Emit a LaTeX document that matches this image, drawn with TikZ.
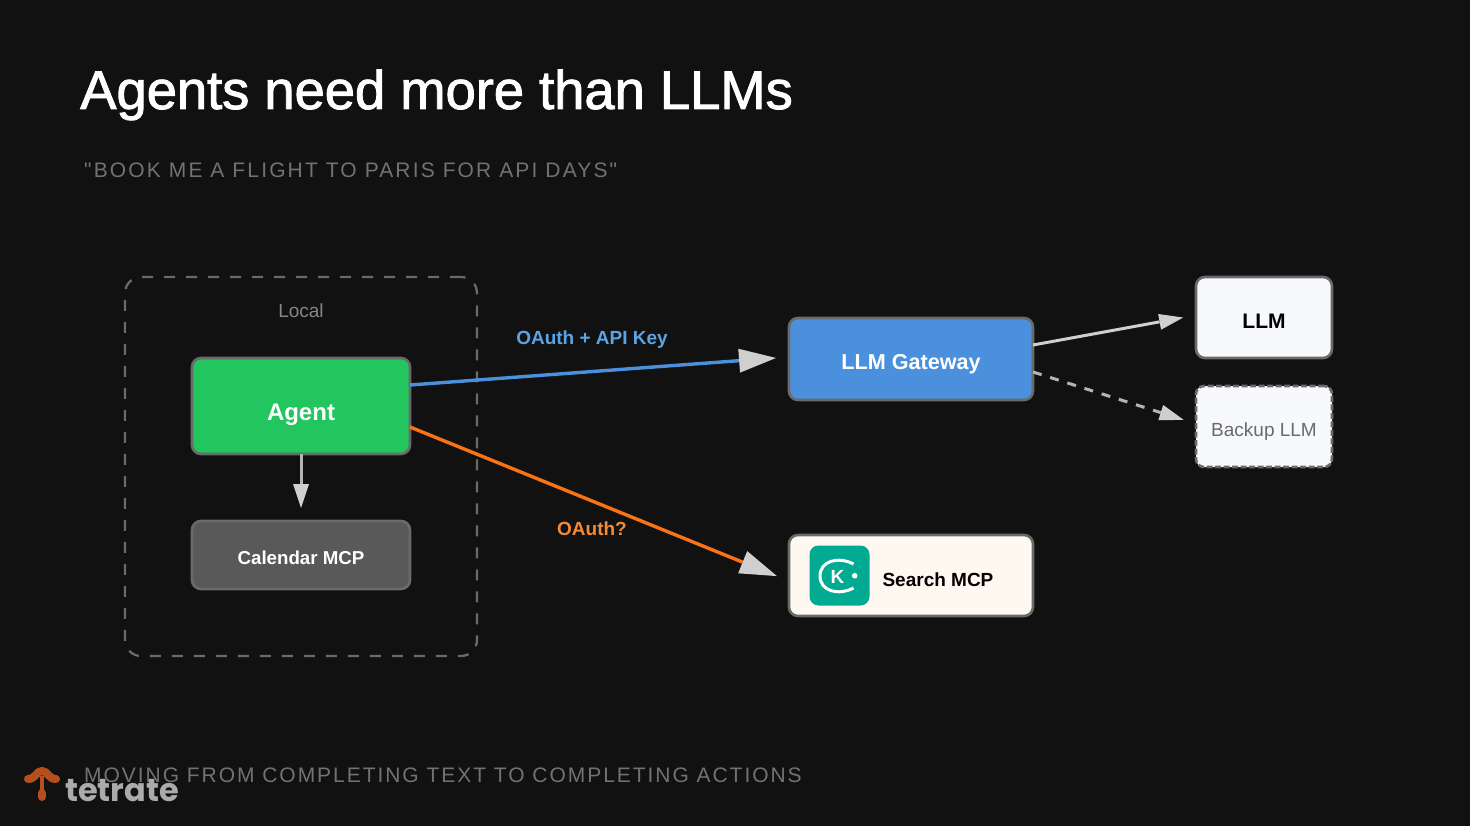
\documentclass[tikz,border=0pt]{standalone}
\usepackage{fontspec}
\setmainfont{Liberation Sans}
\newfontfamily\capsfont{Liberation Sans}
\newfontfamily\logofont{Poppins}
\usetikzlibrary{arrows.meta,positioning}
\definecolor{slidebg}{HTML}{111111}
\definecolor{edgegray}{HTML}{6A6A6A}
\definecolor{arrowgray}{HTML}{CFCFCF}
\definecolor{stemgray}{HTML}{B4B4B4}
\definecolor{agentgreen}{HTML}{22C55E}
\definecolor{gatewayblue}{HTML}{4A90DD}
\definecolor{mcpgray}{HTML}{595959}
\definecolor{llmwhite}{HTML}{F8F9FD}
\definecolor{searchcream}{HTML}{FFF8F0}
\definecolor{kiwiteal}{HTML}{00AB92}
\definecolor{labelblue}{HTML}{5BA4E6}
\definecolor{labelorange}{HTML}{F58B33}
\definecolor{linkorange}{HTML}{F97316}
\definecolor{logoorange}{HTML}{B5501C}
\definecolor{mutedgray}{HTML}{727272}
\newcommand{\fs}[1]{\fontsize{#1}{#1}\selectfont}
\newcommand{\lowered}[2]{\raisebox{-#1}[0pt][0pt]{#2}}
\begin{document}
\begin{tikzpicture}[x=1pt,y=-1pt,
box/.style={draw=edgegray,line width=2.6pt,rounded corners=9pt,align=center,outer sep=0pt,inner sep=0pt},
arr/.style={-{Triangle[length=24pt,width=16pt,fill=arrowgray,color=arrowgray,line width=0pt]},draw=stemgray,line width=3pt,shorten >=13pt},
bigarr/.style={-{Triangle[length=37pt,width=24pt,fill=arrowgray,color=arrowgray,line width=0pt]},line width=3.4pt,shorten >=13pt},
edgelabel/.style={font=\fs{19}\bfseries,inner sep=0pt}]
\useasboundingbox (0,0) rectangle (1470,826);
\fill[slidebg] (0,0) rectangle (1470,826);
% headings
\node[anchor=base west,inner sep=0pt,text=white] (title) at (80,109) {\fs{54.5}\capsfont\addfontfeature{LetterSpace=-0.2,FakeBold=1.6}Agents need more than LLMs};
\node[anchor=base west,inner sep=0pt,text=mutedgray] (subtitle) at (84,178) {\fs{21}\capsfont\addfontfeature{LetterSpace=10.2}"BOOK ME A FLIGHT TO PARIS FOR API DAYS"};
\node[anchor=base west,inner sep=0pt,text=mutedgray] (footer) at (84,782) {\fs{21}\capsfont\addfontfeature{LetterSpace=9.3}MOVING FROM COMPLETING TEXT TO COMPLETING ACTIONS};
% local group
\node[draw=edgegray,line width=2.3pt,dash pattern=on 11pt off 11pt,rounded corners=16pt,minimum width=352pt,minimum height=379pt,inner sep=0pt] (local) at (301,466.5) {};
\node[font=\fs{19},text=black!47,inner sep=0pt] (locallabel) at (301,311) {Local};
% boxes
\node[box,fill=agentgreen,text=white,font=\fs{24}\bfseries,minimum width=218pt,minimum height=96pt] (agent) at (301,406) {\lowered{14pt}{Agent}};
\node[box,fill=mcpgray,text=white,font=\fs{18.7}\bfseries,minimum width=218pt,minimum height=68pt] (calendar) at (301,555) {\lowered{9pt}{Calendar MCP}};
\node[box,fill=gatewayblue,text=white,font=\fs{21.6}\bfseries,minimum width=244pt,minimum height=82pt] (gateway) at (911,359) {\lowered{10.5pt}{LLM Gateway}};
\node[box,fill=searchcream,text=black,font=\fs{19}\bfseries,minimum width=244pt,minimum height=81pt] (search) at (911,575.5) {\hspace*{54pt}\lowered{10.5pt}{Search MCP}};
\node[box,fill=llmwhite,text=black,font=\fs{21}\bfseries,minimum width=136pt,minimum height=81pt] (llm) at (1264,317.5) {\lowered{11pt}{LLM}};
\node[box,fill=llmwhite,text=edgegray,font=\fs{19},dash pattern=on 6pt off 2.5pt,rounded corners=8pt,minimum width=136pt,minimum height=81pt] (backup) at (1264,426.5) {\lowered{10pt}{Backup LLM}};
% search icon
\node[fill=kiwiteal,rounded corners=9pt,minimum size=60pt,inner sep=0pt] (kiwi) at (839.5,575.5) {};
\draw[white,line width=3pt] (853.5,564) .. controls (838,556) and (820,561) .. (820,576) .. controls (820,591) and (838,596) .. (853.5,588);
\node[text=white,font=\fs{19}\bfseries,inner sep=0pt] (kiwik) at (837.5,576.5) {K};
\fill[white] (854.7,575.7) circle (2.8pt);
% connectors
\draw[bigarr,draw=gatewayblue] ([yshift=21pt]agent.east) -- ([yshift=2pt]gateway.west);
\draw[bigarr,draw=linkorange] ([yshift=-21pt]agent.east) -- ([yshift=-5.5pt]search.west);
\draw[arr] (agent.south) -- (calendar.north);
\draw[arr,draw=arrowgray] ([yshift=14pt]gateway.east) -- ([yshift=2.3pt]llm.west);
\draw[arr,dash pattern=on 9pt off 9pt] ([yshift=-13pt]gateway.east) -- ([yshift=2.7pt]backup.west);
\node[edgelabel,text=labelblue] (keylabel) at (592,340) {OAuth + API Key};
\node[edgelabel,text=labelorange] (oauthlabel) at (592,528.5) {OAuth?};
% logo
\draw[logoorange,line width=8pt,line cap=round] (28,779) .. controls (36,779) and (36,771) .. (42,771) .. controls (48,771) and (48,779) .. (56,779);
\draw[logoorange,line width=4pt] (42,776) -- (42,792);
\draw[logoorange,line width=8pt,line cap=round] (42,793) -- (42,797);
\node[anchor=base west,inner sep=0pt,text=black!33,font=\logofont\bfseries\fs{32}] (logotext) at (65,801) {tetrate};
\end{tikzpicture}
\end{document}
